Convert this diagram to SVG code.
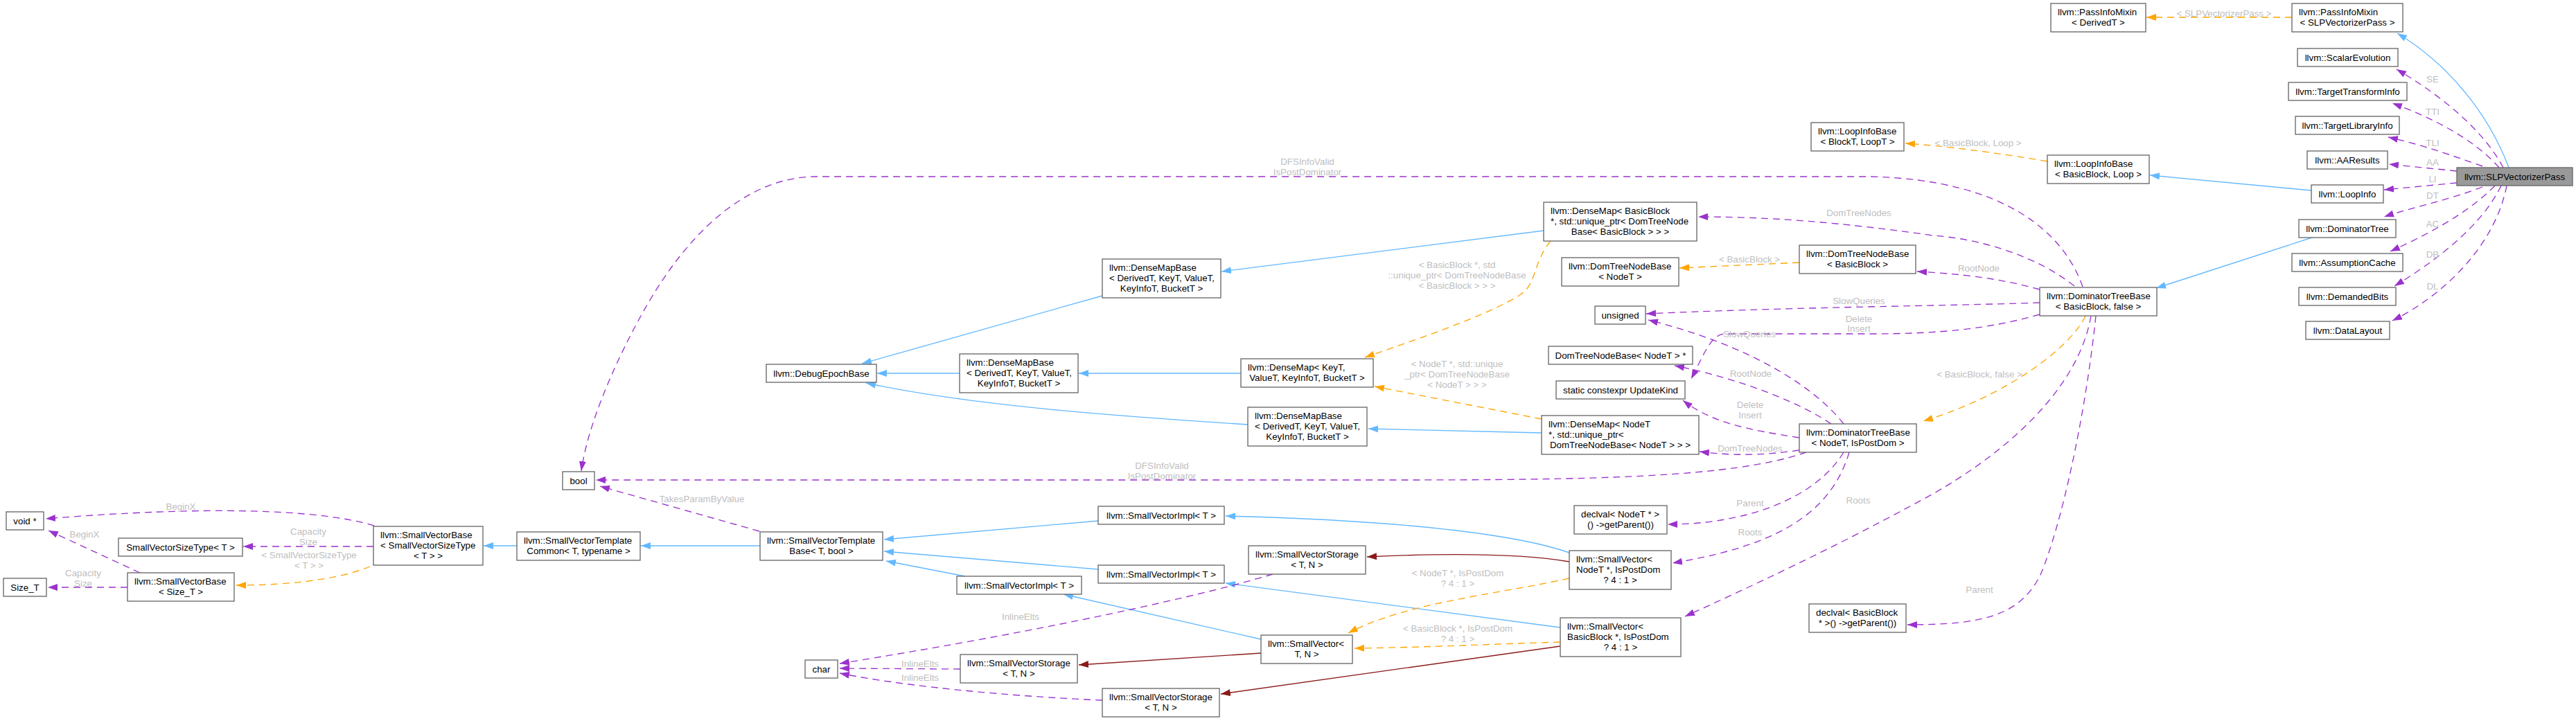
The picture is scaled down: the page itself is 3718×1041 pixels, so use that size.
<svg xmlns="http://www.w3.org/2000/svg" width="3718" height="1041" viewBox="0 0 3718 1041">
<defs>
<marker id="ab" markerUnits="userSpaceOnUse" markerWidth="15" markerHeight="11" refX="14" refY="5" orient="auto"><path d="M0,0 L14,5 L0,10 z" fill="#63b8ff"/></marker>
<marker id="ap" markerUnits="userSpaceOnUse" markerWidth="15" markerHeight="11" refX="14" refY="5" orient="auto"><path d="M0,0 L14,5 L0,10 z" fill="#9a32cd"/></marker>
<marker id="ao" markerUnits="userSpaceOnUse" markerWidth="15" markerHeight="11" refX="14" refY="5" orient="auto"><path d="M0,0 L14,5 L0,10 z" fill="#ffa500"/></marker>
<marker id="ar" markerUnits="userSpaceOnUse" markerWidth="15" markerHeight="11" refX="14" refY="5" orient="auto"><path d="M0,0 L14,5 L0,10 z" fill="#8b1a1a"/></marker>
</defs>
<style>
text{font-family:"Liberation Sans",Arial,Helvetica,sans-serif;font-size:13.33px;fill:#000}
.node rect{fill:#fff;stroke:#666;stroke-width:1.33}
.node rect.main{fill:#999}
.s{text-anchor:start}
.m{text-anchor:middle}
.edges path{fill:none;stroke-width:1.33}
.b{stroke:#63b8ff;marker-end:url(#ab)}
.p{stroke:#9a32cd;stroke-dasharray:10,7;marker-end:url(#ap)}
.o{stroke:#ffa500;stroke-dasharray:10,7;marker-end:url(#ao)}
.r{stroke:#8b1a1a;marker-end:url(#ar)}
.lbl text{fill:#bebebe;text-anchor:middle}
</style>
<rect width="3718" height="1041" fill="#fff"/>
<g class="edges" id="edges">
<path class="b" d="M3621,242 C3590,160 3530,90 3460,48"/>
<path class="b" d="M3336,275 L3103,253"/>
<path class="b" d="M3340,342 L3112,416"/>
<path class="b" d="M2228,333 L1763,392"/>
<path class="b" d="M1591,427 L1244,525"/>
<path class="b" d="M1791,539 L1557,539"/>
<path class="b" d="M1385,539 L1266,539"/>
<path class="b" d="M1801,613 C1600,600 1400,585 1250,553"/>
<path class="b" d="M2225,625 L1975,619"/>
<path class="b" d="M1097,788 L925,788"/>
<path class="b" d="M746,788 L698,788"/>
<path class="b" d="M1585,752 L1276,779"/>
<path class="b" d="M1585,822 L1276,796"/>
<path class="b" d="M1393,832 L1279,810"/>
<path class="b" d="M2265,798 C2200,775 2050,752 1769,745"/>
<path class="b" d="M2252,906 L1769,842"/>
<path class="b" d="M1820,923 L1535,858"/>
<path class="r" d="M2265,811 C2200,800 2100,798 1973,804"/>
<path class="r" d="M2252,933 L1762,1002"/>
<path class="r" d="M1820,943 L1557,960"/>
<path class="o" d="M3308,25 L3098,25"/>
<path class="o" d="M2955,233 C2880,220 2800,210 2750,207"/>
<path class="o" d="M2597,379 L2424,387"/>
<path class="o" d="M2238,348 C2212,380 2218,410 2195,425 C2150,455 2030,495 1970,516"/>
<path class="o" d="M2225,605 L1984,558"/>
<path class="o" d="M3010,456 C2990,500 2900,570 2776,608"/>
<path class="o" d="M2265,835 C2150,860 2030,870 1946,914"/>
<path class="o" d="M2252,927 C2150,930 2050,935 1955,936"/>
<path class="o" d="M534,818 C480,840 400,845 341,845"/>
<path class="p" d="M3613,242 C3580,180 3510,130 3459,100"/>
<path class="p" d="M3607,242 C3570,200 3510,170 3453,149"/>
<path class="p" d="M3583,240 C3540,225 3500,210 3447,198"/>
<path class="p" d="M3546,247 L3448,237"/>
<path class="p" d="M3546,264 L3441,274"/>
<path class="p" d="M3583,270 C3530,290 3480,300 3441,313"/>
<path class="p" d="M3601,268 C3560,310 3500,340 3450,363"/>
<path class="p" d="M3610,268 C3580,330 3510,380 3456,413"/>
<path class="p" d="M3618,268 C3600,360 3520,430 3453,463"/>
<path class="p" d="M3006,414 C2980,340 2900,260 2700,255 L1173,255 C1080,258 1000,330 940,430 C904,490 850,600 839,680"/>
<path class="p" d="M2994,413 C2940,370 2860,345 2790,340 C2650,320 2550,313 2451,313"/>
<path class="p" d="M2944,418 C2880,400 2820,395 2767,392"/>
<path class="p" d="M2944,437 C2800,442 2600,443 2376,453"/>
<path class="p" d="M2944,454 C2870,475 2800,482 2700,482 L2490,482 C2470,482 2460,510 2441,547"/>
<path class="p" d="M3018,456 C3000,560 2900,650 2790,713 C2650,790 2520,850 2432,890"/>
<path class="p" d="M3025,456 C3010,600 2975,760 2945,830 C2915,890 2860,902 2753,902"/>
<path class="p" d="M2661,612 C2620,560 2530,500 2379,462"/>
<path class="p" d="M2643,612 C2580,570 2480,540 2417,528"/>
<path class="p" d="M2597,632 C2520,620 2470,610 2429,578"/>
<path class="p" d="M2597,650 C2540,658 2500,658 2453,652"/>
<path class="p" d="M2607,653 C2500,690 2300,693 2000,693 L860,693"/>
<path class="p" d="M2661,653 C2620,720 2520,757 2407,757"/>
<path class="p" d="M2669,653 C2640,750 2550,790 2414,813"/>
<path class="p" d="M1096,767 L866,702"/>
<path class="p" d="M539,789 L351,789"/>
<path class="p" d="M540,759 C460,735 300,730 66,749"/>
<path class="p" d="M202,827 L70,766"/>
<path class="p" d="M184,848 L69,848"/>
<path class="p" d="M1837,829 C1700,870 1450,920 1212,958"/>
<path class="p" d="M1386,966 L1212,965"/>
<path class="p" d="M1591,1011 C1450,1005 1300,990 1212,972"/>
</g>
<g class="lbl" id="edge-labels">
<text x="3210" y="24">&lt; SLPVectorizerPass &gt;</text>
<text x="3511" y="119">SE</text>
<text x="3511" y="166">TTI</text>
<text x="3511" y="211">TLI</text>
<text x="3511" y="239">AA</text>
<text x="3511" y="263">LI</text>
<text x="3511" y="287">DT</text>
<text x="3511" y="328">AC</text>
<text x="3511" y="372">DB</text>
<text x="3511" y="418">DL</text>
<text x="2855" y="211">&lt; BasicBlock, Loop &gt;</text>
<text x="1887" y="238">DFSInfoValid</text>
<text x="1887" y="253">IsPostDominator</text>
<text x="2683" y="312">DomTreeNodes</text>
<text x="2525" y="379">&lt; BasicBlock &gt;</text>
<text x="2856" y="392">RootNode</text>
<text x="2683" y="439">SlowQueries</text>
<text x="2683" y="465">Delete</text>
<text x="2683" y="479">Insert</text>
<text x="2525" y="487">SlowQueries</text>
<text x="2103" y="387">&lt; BasicBlock *, std</text>
<text x="2103" y="402">::unique_ptr&lt; DomTreeNodeBase</text>
<text x="2103" y="417">&lt; BasicBlock &gt; &gt; &gt;</text>
<text x="2103" y="530">&lt; NodeT *, std::unique</text>
<text x="2103" y="545">_ptr&lt; DomTreeNodeBase</text>
<text x="2103" y="560">&lt; NodeT &gt; &gt; &gt;</text>
<text x="2527" y="544">RootNode</text>
<text x="2857" y="545">&lt; BasicBlock, false &gt;</text>
<text x="2526" y="589">Delete</text>
<text x="2526" y="604">Insert</text>
<text x="2526" y="652">DomTreeNodes</text>
<text x="1677" y="677">DFSInfoValid</text>
<text x="1677" y="692">IsPostDominator</text>
<text x="1013" y="725">TakesParamByValue</text>
<text x="2526" y="731">Parent</text>
<text x="2682" y="727">Roots</text>
<text x="2526" y="773">Roots</text>
<text x="2857" y="856">Parent</text>
<text x="2104" y="832">&lt; NodeT *, IsPostDom</text>
<text x="2104" y="847">? 4 : 1 &gt;</text>
<text x="1473" y="895">InlineElts</text>
<text x="2104" y="912">&lt; BasicBlock *, IsPostDom</text>
<text x="2104" y="927">? 4 : 1 &gt;</text>
<text x="1328" y="963">InlineElts</text>
<text x="1328" y="983">InlineElts</text>
<text x="261" y="736">BeginX</text>
<text x="445" y="772">Capacity</text>
<text x="445" y="787">Size</text>
<text x="446" y="806">&lt; SmallVectorSizeType</text>
<text x="446" y="821">&lt; T &gt; &gt;</text>
<text x="122" y="776">BeginX</text>
<text x="120" y="832">Capacity</text>
<text x="120" y="847">Size</text>
</g>
<g id="n-slp" class="node"><rect class="main" x="3546" y="242" width="167" height="26"/><text class="m" x="3629.5" y="260">llvm::SLPVectorizerPass</text></g>
<g id="n-pim-slp" class="node"><rect x="3308" y="5" width="160" height="41"/><text class="s" x="3318" y="22">llvm::PassInfoMixin</text><text class="m" x="3388" y="37">&lt; SLPVectorizerPass &gt;</text></g>
<g id="n-pim-d" class="node"><rect x="2960" y="5" width="137" height="41"/><text class="s" x="2970" y="22">llvm::PassInfoMixin</text><text class="m" x="3028.5" y="37">&lt; DerivedT &gt;</text></g>
<g id="n-se" class="node"><rect x="3316" y="70" width="145" height="26"/><text class="m" x="3388.5" y="88">llvm::ScalarEvolution</text></g>
<g id="n-tti" class="node"><rect x="3303" y="119" width="171" height="26"/><text class="m" x="3388.5" y="137">llvm::TargetTransformInfo</text></g>
<g id="n-tli" class="node"><rect x="3313" y="168" width="150" height="26"/><text class="m" x="3388" y="186">llvm::TargetLibraryInfo</text></g>
<g id="n-aa" class="node"><rect x="3330" y="218" width="116" height="26"/><text class="m" x="3388" y="236">llvm::AAResults</text></g>
<g id="n-li" class="node"><rect x="3336" y="267" width="104" height="26"/><text class="m" x="3388" y="285">llvm::LoopInfo</text></g>
<g id="n-dt" class="node"><rect x="3318" y="317" width="140" height="26"/><text class="m" x="3388" y="335">llvm::DominatorTree</text></g>
<g id="n-ac" class="node"><rect x="3308" y="366" width="160" height="26"/><text class="m" x="3388" y="384">llvm::AssumptionCache</text></g>
<g id="n-db" class="node"><rect x="3318" y="415" width="140" height="26"/><text class="m" x="3388" y="433">llvm::DemandedBits</text></g>
<g id="n-dl" class="node"><rect x="3328" y="464" width="121" height="26"/><text class="m" x="3388.5" y="482">llvm::DataLayout</text></g>
<g id="n-lib-bb" class="node"><rect x="2955" y="224" width="147" height="41"/><text class="s" x="2965" y="241">llvm::LoopInfoBase</text><text class="m" x="3028.5" y="256">&lt; BasicBlock, Loop &gt;</text></g>
<g id="n-lib-t" class="node"><rect x="2614" y="177" width="134" height="41"/><text class="s" x="2624" y="194">llvm::LoopInfoBase</text><text class="m" x="2681" y="209">&lt; BlockT, LoopT &gt;</text></g>
<g id="n-dtb-bb" class="node"><rect x="2944" y="415" width="169" height="41"/><text class="s" x="2954" y="432">llvm::DominatorTreeBase</text><text class="m" x="3028.5" y="447">&lt; BasicBlock, false &gt;</text></g>
<g id="n-dtb-n" class="node"><rect x="2597" y="612" width="169" height="41"/><text class="s" x="2607" y="629">llvm::DominatorTreeBase</text><text class="m" x="2681.5" y="644">&lt; NodeT, IsPostDom &gt;</text></g>
<g id="n-dm-bb" class="node"><rect x="2228" y="292" width="221" height="56"/><text class="s" x="2238" y="309">llvm::DenseMap&lt; BasicBlock</text><text class="s" x="2238" y="324"> *, std::unique_ptr&lt; DomTreeNode</text><text class="m" x="2338.5" y="339">Base&lt; BasicBlock &gt; &gt; &gt;</text></g>
<g id="n-dtnb-bb" class="node"><rect x="2597" y="354" width="168" height="41"/><text class="s" x="2607" y="371">llvm::DomTreeNodeBase</text><text class="m" x="2681" y="386">&lt; BasicBlock &gt;</text></g>
<g id="n-dtnb-n" class="node"><rect x="2254" y="372" width="169" height="41"/><text class="s" x="2264" y="389">llvm::DomTreeNodeBase</text><text class="m" x="2338.5" y="404">&lt; NodeT &gt;</text></g>
<g id="n-unsigned" class="node"><rect x="2302" y="442" width="73" height="26"/><text class="m" x="2338.5" y="460">unsigned</text></g>
<g id="n-dtnb-ptr" class="node"><rect x="2235" y="500" width="208" height="26"/><text class="m" x="2339" y="518">DomTreeNodeBase&lt; NodeT &gt; *</text></g>
<g id="n-updatekind" class="node"><rect x="2246" y="550" width="186" height="26"/><text class="m" x="2339" y="568">static constexpr UpdateKind</text></g>
<g id="n-dm-n" class="node"><rect x="2225" y="600" width="227" height="56"/><text class="s" x="2235" y="617">llvm::DenseMap&lt; NodeT</text><text class="s" x="2235" y="632"> *, std::unique_ptr&lt;</text><text class="m" x="2338.5" y="647">DomTreeNodeBase&lt; NodeT &gt; &gt; &gt;</text></g>
<g id="n-declval-n" class="node"><rect x="2272" y="730" width="134" height="41"/><text class="s" x="2282" y="747">declval&lt; NodeT * &gt;</text><text class="m" x="2339" y="762">() -&gt;getParent())</text></g>
<g id="n-sv-n" class="node"><rect x="2265" y="795" width="147" height="56"/><text class="s" x="2275" y="812">llvm::SmallVector&lt;</text><text class="s" x="2275" y="827"> NodeT *, IsPostDom</text><text class="m" x="2338.5" y="842">? 4 : 1 &gt;</text></g>
<g id="n-sv-bb" class="node"><rect x="2252" y="892" width="174" height="56"/><text class="s" x="2262" y="909">llvm::SmallVector&lt;</text><text class="s" x="2262" y="924"> BasicBlock *, IsPostDom</text><text class="m" x="2339" y="939">? 4 : 1 &gt;</text></g>
<g id="n-declval-bb" class="node"><rect x="2611" y="872" width="140" height="41"/><text class="s" x="2621" y="889">declval&lt; BasicBlock</text><text class="m" x="2681" y="904"> * &gt;() -&gt;getParent())</text></g>
<g id="n-dm-k" class="node"><rect x="1791" y="518" width="191" height="41"/><text class="s" x="1801" y="535">llvm::DenseMap&lt; KeyT,</text><text class="m" x="1886.5" y="550">ValueT, KeyInfoT, BucketT &gt;</text></g>
<g id="n-dmb-up" class="node"><rect x="1591" y="374" width="171" height="56"/><text class="s" x="1601" y="391">llvm::DenseMapBase</text><text class="s" x="1601" y="406">&lt; DerivedT, KeyT, ValueT,</text><text class="m" x="1676.5" y="421">KeyInfoT, BucketT &gt;</text></g>
<g id="n-dmb-mid" class="node"><rect x="1385" y="511" width="171" height="56"/><text class="s" x="1395" y="528">llvm::DenseMapBase</text><text class="s" x="1395" y="543">&lt; DerivedT, KeyT, ValueT,</text><text class="m" x="1470.5" y="558">KeyInfoT, BucketT &gt;</text></g>
<g id="n-dmb-low" class="node"><rect x="1801" y="588" width="172" height="56"/><text class="s" x="1811" y="605">llvm::DenseMapBase</text><text class="s" x="1811" y="620">&lt; DerivedT, KeyT, ValueT,</text><text class="m" x="1887" y="635">KeyInfoT, BucketT &gt;</text></g>
<g id="n-deb" class="node"><rect x="1106" y="526" width="159" height="26"/><text class="m" x="1185.5" y="544">llvm::DebugEpochBase</text></g>
<g id="n-svs-up" class="node"><rect x="1802" y="788" width="169" height="41"/><text class="s" x="1812" y="805">llvm::SmallVectorStorage</text><text class="m" x="1886.5" y="820">&lt; T, N &gt;</text></g>
<g id="n-svi-up" class="node"><rect x="1585" y="731" width="182" height="26"/><text class="m" x="1676" y="749">llvm::SmallVectorImpl&lt; T &gt;</text></g>
<g id="n-svi-mid" class="node"><rect x="1585" y="816" width="182" height="26"/><text class="m" x="1676" y="834">llvm::SmallVectorImpl&lt; T &gt;</text></g>
<g id="n-svi-low" class="node"><rect x="1381" y="832" width="180" height="26"/><text class="m" x="1471" y="850">llvm::SmallVectorImpl&lt; T &gt;</text></g>
<g id="n-sv-tn" class="node"><rect x="1820" y="917" width="132" height="41"/><text class="s" x="1830" y="934">llvm::SmallVector&lt;</text><text class="m" x="1886" y="949">T, N &gt;</text></g>
<g id="n-svs-mid" class="node"><rect x="1386" y="945" width="169" height="41"/><text class="s" x="1396" y="962">llvm::SmallVectorStorage</text><text class="m" x="1470.5" y="977">&lt; T, N &gt;</text></g>
<g id="n-svs-low" class="node"><rect x="1591" y="994" width="169" height="41"/><text class="s" x="1601" y="1011">llvm::SmallVectorStorage</text><text class="m" x="1675.5" y="1026">&lt; T, N &gt;</text></g>
<g id="n-char" class="node"><rect x="1162" y="953" width="47" height="26"/><text class="m" x="1185.5" y="971">char</text></g>
<g id="n-svtb" class="node"><rect x="1097" y="768" width="177" height="41"/><text class="s" x="1107" y="785">llvm::SmallVectorTemplate</text><text class="m" x="1185.5" y="800">Base&lt; T, bool &gt;</text></g>
<g id="n-svtc" class="node"><rect x="746" y="768" width="178" height="41"/><text class="s" x="756" y="785">llvm::SmallVectorTemplate</text><text class="m" x="835" y="800">Common&lt; T, typename &gt;</text></g>
<g id="n-svb-svst" class="node"><rect x="539" y="760" width="158" height="56"/><text class="s" x="549" y="777">llvm::SmallVectorBase</text><text class="s" x="549" y="792">&lt; SmallVectorSizeType</text><text class="m" x="618" y="807">&lt; T &gt; &gt;</text></g>
<g id="n-svst" class="node"><rect x="171" y="777" width="179" height="26"/><text class="m" x="260.5" y="795">SmallVectorSizeType&lt; T &gt;</text></g>
<g id="n-svb-st" class="node"><rect x="184" y="827" width="154" height="41"/><text class="s" x="194" y="844">llvm::SmallVectorBase</text><text class="m" x="261" y="859">&lt; Size_T &gt;</text></g>
<g id="n-void" class="node"><rect x="9" y="739" width="54" height="26"/><text class="m" x="36" y="757">void *</text></g>
<g id="n-size-t" class="node"><rect x="5" y="835" width="62" height="26"/><text class="m" x="36" y="853">Size_T</text></g>
<g id="n-bool" class="node"><rect x="812" y="681" width="46" height="26"/><text class="m" x="835" y="699">bool</text></g>
</svg>
